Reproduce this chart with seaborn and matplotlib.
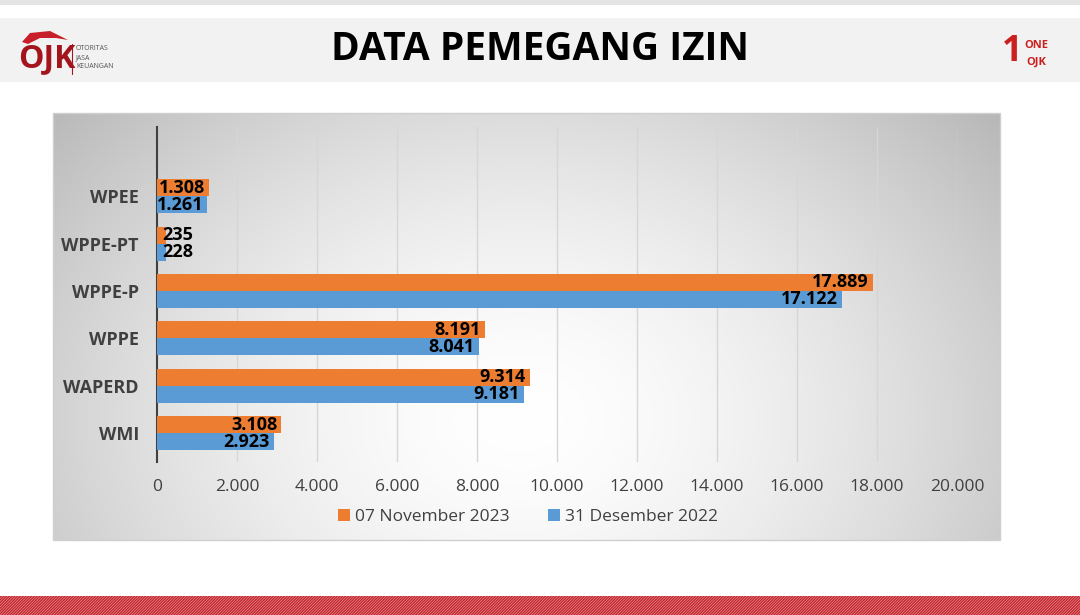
import numpy as np
import pandas as pd
import matplotlib
matplotlib.use("Agg")
import matplotlib.pyplot as plt
from matplotlib.patches import Rectangle, Polygon
import seaborn as sns

# ---- data ----
categories = ["WPEE", "WPPE-PT", "WPPE-P", "WPPE", "WAPERD", "WMI"]
series_names = ["07 November 2023", "31 Desember 2022"]
values_2023 = [1308, 235, 17889, 8191, 9314, 3108]
values_2022 = [1261, 228, 17122, 8041, 9181, 2923]
x_ticks = [0, 2000, 4000, 6000, 8000, 10000, 12000, 14000, 16000, 18000, 20000]
title = "DATA PEMEGANG IZIN"

colors = ["#ED7D31", "#5B9BD5"]

df = pd.DataFrame({
    "kategori": categories * 2,
    "nilai": values_2023 + values_2022,
    "periode": [series_names[0]] * len(categories) + [series_names[1]] * len(categories),
})

sns.set_theme(style="white")
plt.rcParams["font.family"] = ["Open Sans", "DejaVu Sans"]

W, H = 1080, 615
fig = plt.figure(figsize=(W / 100, H / 100), dpi=100)

# ---- background / slide decoration ----
bg = fig.add_axes([0, 0, 1, 1])
bg.set_xlim(0, W)
bg.set_ylim(H, 0)
bg.axis("off")
bg.add_patch(Rectangle((0, 0), W, 5, facecolor="#e4e4e4", edgecolor="none"))
bg.add_patch(Rectangle((0, 18), W, 64, facecolor="#f2f2f2", edgecolor="none"))

# chart panel with radial gradient
px0, px1, py0, py1 = 53, 1000, 113, 540
xx, yy = np.meshgrid(np.linspace(px0, px1, 400), np.linspace(py0, py1, 200))
r = np.sqrt(((xx - 520) / 520.0) ** 2 + ((yy - 420) / 400.0) ** 2)
g = np.clip(1.0 - 0.21 * np.clip(r, 0, 1.25) ** 1.6, 0, 1)
img = np.dstack([g, g, g])
bg.imshow(img, extent=(px0, px1, py1, py0), aspect="auto", zorder=1, interpolation="bilinear")
bg.add_patch(Rectangle((px0, py0), px1 - px0, py1 - py0, facecolor="none",
                       edgecolor="#cfcfcf", lw=1, zorder=2))

# bottom hatched stripe
plt.rcParams["hatch.linewidth"] = 1.1
bg.add_patch(Rectangle((0, 596), W, 19, facecolor="#f3c4c4", edgecolor="#c4262e",
                       linewidth=0, hatch="////////////", zorder=2))

# title
bg.text(540, 49, title, ha="center", va="center", fontsize=28, fontweight="bold",
        color="#000000", family=["Open Sans", "DejaVu Sans"], zorder=3)

# OJK logo (approximation)
bg.add_patch(Polygon([[22, 42], [30, 33], [50, 31], [68, 40], [56, 38], [40, 38], [28, 44]],
                     closed=True, facecolor="#c8202a", edgecolor="none", zorder=3))
bg.text(18, 59, "OJK", ha="left", va="center", fontsize=23, fontweight="bold",
        color="#a3141c", family=["Open Sans", "DejaVu Sans"], zorder=3)
bg.plot([72, 72], [44, 74], color="#a3141c", lw=0.8, zorder=3)
for i, t in enumerate(["OTORITAS", "JASA", "KEUANGAN"]):
    bg.text(76, 49 + i * 9, t, ha="left", va="center", fontsize=5, color="#555555",
            family=["Open Sans", "DejaVu Sans"], zorder=3)

# ONE OJK logo (approximation)
bg.text(1012, 52, "1", ha="center", va="center", fontsize=26, fontweight="bold",
        color="#cc1f1f", family=["Open Sans", "DejaVu Sans"], zorder=3)
bg.text(1036, 45, "ONE", ha="center", va="center", fontsize=8, fontweight="bold",
        color="#cc1f1f", family=["Open Sans", "DejaVu Sans"], zorder=3)
bg.text(1036, 62, "OJK", ha="center", va="center", fontsize=8, fontweight="bold",
        color="#cc1f1f", family=["Open Sans", "DejaVu Sans"], zorder=3)

# ---- main chart ----
ax_left, ax_right, ax_top, ax_bottom = 157, 957, 127, 462
ax = fig.add_axes([ax_left / W, 1 - ax_bottom / H, (ax_right - ax_left) / W, (ax_bottom - ax_top) / H])
ax.patch.set_alpha(0)

sns.barplot(data=df, y="kategori", x="nilai", hue="periode", orient="h",
            palette=colors, saturation=1, width=0.72, order=categories,
            hue_order=series_names, ax=ax, legend=False, zorder=3, edgecolor="none")

ax.set_xlim(0, 20000)
ax.set_ylim(5.61, -1.46)
ax.set_xticks(x_ticks)
ax.set_xticklabels([f"{v:,}".replace(",", ".") for v in x_ticks])
ax.set_xlabel("")
ax.set_ylabel("")
ax.grid(axis="x", color="#d6d6d6", lw=1, zorder=0)
ax.set_axisbelow(True)
for s in ["top", "right", "bottom"]:
    ax.spines[s].set_visible(False)
ax.spines["left"].set_color("#404040")
ax.spines["left"].set_linewidth(1.5)
ax.tick_params(axis="x", length=0, pad=12, labelsize=12.5, labelcolor="#404040")
ax.tick_params(axis="y", length=0, pad=13, labelsize=13)
for lab in ax.get_yticklabels():
    lab.set_fontweight("bold")
    lab.set_color("#404040")

# data labels
for cont in ax.containers:
    for patch in cont.patches:
        w = patch.get_width()
        yc = patch.get_y() + patch.get_height() / 2
        txt = f"{int(round(w)):,}".replace(",", ".")
        if w > 1000:
            ax.annotate(txt, (w, yc), xytext=(-3, 0), textcoords="offset points",
                        ha="right", va="center", fontsize=13, fontweight="bold",
                        color="#000000", zorder=5)
        else:
            ax.annotate(txt, (0, yc), xytext=(4, 0), textcoords="offset points",
                        ha="left", va="center", fontsize=13, fontweight="bold",
                        color="#000000", zorder=5)

# legend
handles = [Rectangle((0, 0), 1, 1, facecolor=c, edgecolor="none") for c in colors]
fig.legend(handles, series_names, loc="center", bbox_to_anchor=(528 / W, 1 - 517 / H),
           ncol=2, frameon=False, fontsize=12.5, handlelength=0.7, handleheight=0.7,
           handletextpad=0.3, columnspacing=2.2, labelcolor="#404040")

fig.savefig("out.png", dpi=100)
